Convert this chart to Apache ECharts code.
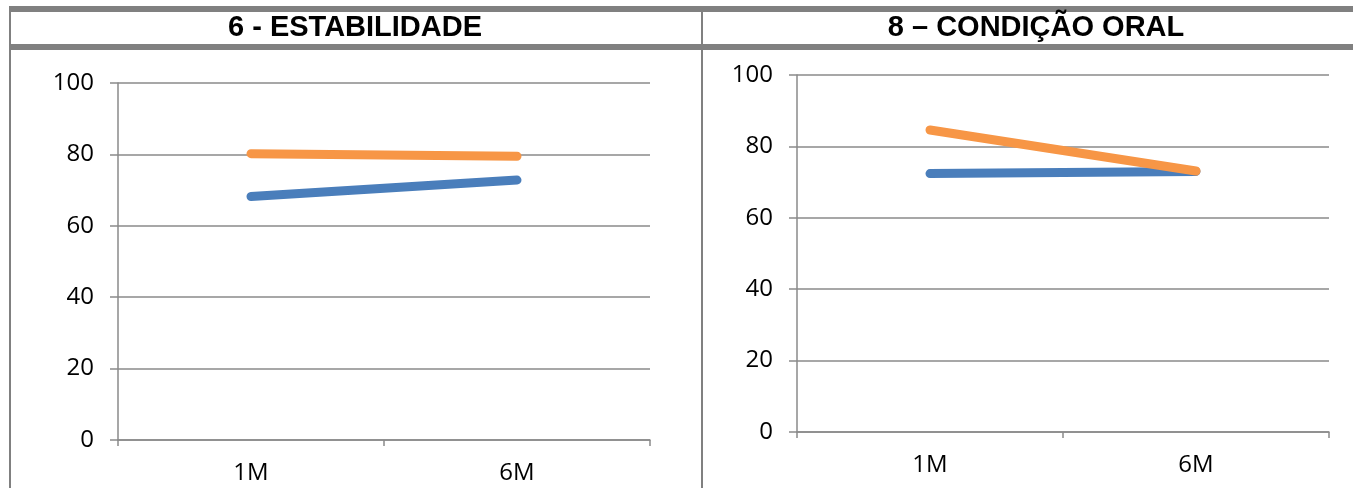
<!DOCTYPE html>
<html>
<head>
<meta charset="utf-8">
<script src="https://cdn.jsdelivr.net/npm/echarts@6/dist/echarts.min.js"></script>
<style>
  html, body { margin: 0; padding: 0; background: #ffffff; }
  #chart { width: 1353px; height: 488px; }
</style>
</head>
<body>
<div id="chart"></div>
<script>
// Categories and values for the two panels
const categories = ['1M', '6M'];
const yTicks = [0, 20, 40, 60, 80, 100];

const estabilidadeSerie1 = [68.2, 72.8];
const estabilidadeSerie2 = [80.2, 79.5];

const condicaoOralSerie1 = [72.4, 73.0];
const condicaoOralSerie2 = [84.6, 73.1];

const titles = ['6 - ESTABILIDADE', '8 \u2013 CONDI\u00C7\u00C3O ORAL'];

const BLUE = '#4A7EBB';
const ORANGE = '#F79646';
const GRID_GRAY = '#8a8a8a';
const BORDER_GRAY = '#808080';
const LABEL_FONT = '"Open Sans", "Noto Sans", sans-serif';
const TITLE_FONT = '"Liberation Sans", Arial, sans-serif';

const chart = echarts.init(document.getElementById('chart'), null, { renderer: 'canvas' });

function xAxisFor(gridIndex) {
  return {
    type: 'category',
    gridIndex,
    data: categories,
    boundaryGap: true,
    axisLine: { show: true, lineStyle: { color: GRID_GRAY, width: 1.5 } },
    axisTick: { show: true, interval: 0, length: 6, lineStyle: { color: GRID_GRAY, width: 1.5 } },
    axisLabel: { color: '#000', fontSize: 24, fontFamily: LABEL_FONT, margin: 21 },
    splitLine: { show: false }
  };
}

function yAxisFor(gridIndex) {
  return {
    type: 'value',
    gridIndex,
    min: yTicks[0],
    max: yTicks[yTicks.length - 1],
    interval: yTicks[1] - yTicks[0],
    axisLine: { show: true, lineStyle: { color: GRID_GRAY, width: 1.5 } },
    axisTick: { show: true, length: 8, lineStyle: { color: GRID_GRAY, width: 1.5 } },
    axisLabel: { color: '#000', fontSize: 24, fontFamily: LABEL_FONT, margin: 24 },
    splitLine: { show: true, lineStyle: { color: GRID_GRAY, width: 1.5 } }
  };
}

function lineSeries(name, data, color, axisIndex) {
  return {
    name,
    type: 'line',
    xAxisIndex: axisIndex,
    yAxisIndex: axisIndex,
    data,
    symbol: 'none',
    smooth: false,
    lineStyle: { color, width: 9, cap: 'round', join: 'round' },
    itemStyle: { color },
    emphasis: { disabled: true },
    animation: false
  };
}

function titleText(text, x) {
  return {
    type: 'text', x, y: 28,
    style: {
      text, fill: '#000',
      fontSize: 29, fontWeight: 'bold', fontFamily: TITLE_FONT,
      align: 'center', verticalAlign: 'middle'
    },
    silent: true
  };
}

// Table frame around the two panels
const frame = [
  { type: 'rect', shape: { x: 9, y: 6, width: 1344, height: 6 }, style: { fill: BORDER_GRAY }, silent: true },
  { type: 'rect', shape: { x: 9, y: 44, width: 1344, height: 6 }, style: { fill: BORDER_GRAY }, silent: true },
  { type: 'rect', shape: { x: 9, y: 6, width: 2, height: 482 }, style: { fill: BORDER_GRAY }, silent: true },
  { type: 'rect', shape: { x: 701, y: 6, width: 2, height: 482 }, style: { fill: BORDER_GRAY }, silent: true },
  titleText(titles[0], 355),
  titleText(titles[1], 1036)
];

chart.setOption({
  backgroundColor: '#ffffff',
  animation: false,
  grid: [
    { left: 118, right: 703, top: 83, bottom: 48, containLabel: false },
    { left: 797, right: 24, top: 75, bottom: 56, containLabel: false }
  ],
  xAxis: [xAxisFor(0), xAxisFor(1)],
  yAxis: [yAxisFor(0), yAxisFor(1)],
  series: [
    lineSeries('Série 1', estabilidadeSerie1, BLUE, 0),
    lineSeries('Série 2', estabilidadeSerie2, ORANGE, 0),
    lineSeries('Série 1', condicaoOralSerie1, BLUE, 1),
    lineSeries('Série 2', condicaoOralSerie2, ORANGE, 1)
  ],
  graphic: frame
});
</script>
</body>
</html>
